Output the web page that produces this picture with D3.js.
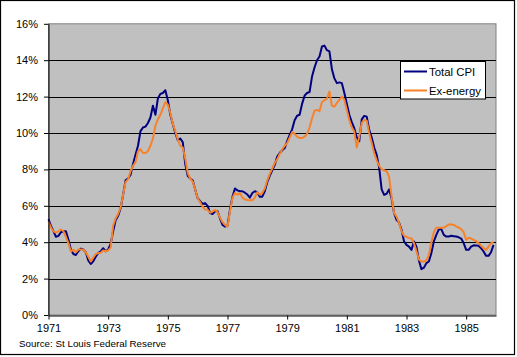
<!DOCTYPE html>
<html>
<head>
<meta charset="utf-8">
<script src="https://cdn.jsdelivr.net/npm/d3@7"></script>
<style>
  html, body { margin: 0; padding: 0; background: #fff; }
  svg { display: block; }
  text { font-family: "Liberation Sans", Arial, sans-serif; fill: #000; }
</style>
</head>
<body>
<svg id="chart" width="517" height="357"></svg>
<script>
// ---- data (monthly, Jan 1971 – Dec 1985, year-over-year % change) ----
const startYear = 1971;
const seriesNames = ["Total CPI", "Ex-energy"];
const cpiTotal = [
  5.26, 4.9, 4.6, 4.3, 4.35, 4.55, 4.6, 4.6, 4.15, 3.6, 3.35, 3.3,
  3.5, 3.65, 3.6, 3.45, 3.0, 2.8, 2.95, 3.2, 3.4, 3.5, 3.67, 3.5,
  3.6, 3.9, 4.6, 5.2, 5.45, 5.85, 6.6, 7.4, 7.5, 7.7, 8.3, 8.8,
  9.3, 10.1, 10.3, 10.35, 10.55, 10.85, 11.5, 11.0, 11.9, 12.15, 12.2, 12.35,
  11.8, 11.0, 10.5, 10.0, 9.6, 9.7, 9.5, 8.3, 7.65, 7.5, 7.4, 6.9,
  6.42, 6.25, 6.1, 6.15, 6.0, 5.6, 5.55, 5.7, 5.7, 5.3, 4.95, 4.86,
  4.9, 5.8, 6.5, 6.95, 6.85, 6.8, 6.8, 6.72, 6.62, 6.45, 6.7, 6.8,
  6.75, 6.5, 6.5, 6.8, 7.3, 7.65, 7.95, 8.25, 8.7, 8.9, 9.05, 9.17,
  9.55, 9.9, 10.2, 10.7, 10.95, 11.0, 11.6, 12.05, 12.2, 12.25, 13.1, 13.6,
  14.0, 14.2, 14.75, 14.8, 14.55, 14.48, 13.5, 13.0, 12.74, 12.78, 12.74, 12.2,
  11.6, 11.0, 10.6, 10.26, 9.75, 9.55, 10.75, 10.94, 10.9, 10.17, 9.75, 9.2,
  8.8, 8.1, 6.9, 6.6, 6.66, 6.9, 6.4, 5.6, 5.23, 5.08, 4.68, 4.05,
  3.85, 3.76, 3.58, 4.04, 3.76, 3.0, 2.52, 2.6, 2.85, 2.94, 3.4, 4.04,
  4.4, 4.7, 4.72, 4.4, 4.31, 4.31, 4.35, 4.33, 4.31, 4.27, 4.2, 3.95,
  3.58, 3.58, 3.76, 3.83, 3.82, 3.8, 3.67, 3.49, 3.25, 3.25, 3.45, 3.85
];
const cpiExEnergy = [
  5.13, 4.8, 4.6, 4.53, 4.6, 4.7, 4.6, 4.3, 3.95, 3.5, 3.58, 3.45,
  3.6, 3.6, 3.6, 3.45, 3.2, 2.94, 3.15, 3.35, 3.4, 3.42, 3.55, 3.5,
  3.55, 3.7, 4.9, 5.3, 5.55, 5.9, 6.6, 7.3, 7.45, 7.9, 8.2, 8.4,
  9.0, 9.1, 8.9, 8.9, 9.0, 9.3, 9.7, 10.4, 10.75, 11.0, 11.35, 11.7,
  11.55, 11.1, 10.5, 10.1, 9.65, 9.3, 9.2, 8.6, 7.8, 7.5, 7.33, 6.9,
  6.42, 6.2, 5.95, 5.8, 5.78, 5.62, 5.68, 5.78, 5.65, 5.35, 5.1, 4.95,
  4.86, 5.7, 6.45, 6.7, 6.62, 6.7, 6.45, 6.35, 6.32, 6.3, 6.3, 6.45,
  6.75, 6.62, 6.7, 6.95, 7.4, 7.75, 8.05, 8.35, 8.55, 8.85, 9.1, 9.3,
  9.44, 9.75, 10.05, 9.95, 9.8, 9.72, 9.72, 9.8, 9.95, 10.3, 10.8, 11.22,
  11.27, 11.2, 11.7, 11.8, 11.88, 12.28, 11.5, 11.45, 11.65, 11.82, 12.0, 11.82,
  11.27, 10.7, 10.3, 10.08, 9.2, 9.8, 10.55, 10.72, 10.68, 9.99, 9.45, 8.9,
  8.5, 8.2, 8.0, 7.95, 7.9, 7.6, 6.5, 5.6, 5.4, 5.05, 4.6, 4.35,
  4.3, 4.22, 4.22, 3.95, 3.5, 3.05, 2.94, 2.94, 3.0, 3.3, 4.0, 4.55,
  4.8, 4.8, 4.8, 4.8, 4.88, 4.97, 4.98, 4.95, 4.87, 4.8, 4.72, 4.55,
  4.13, 4.25, 4.2, 4.13, 4.06, 3.95, 3.8, 3.67, 3.58, 3.75, 3.95, 4.0
];
const xTickYears = [1971, 1973, 1975, 1977, 1979, 1981, 1983, 1985];
const yTickValues = [0, 2, 4, 6, 8, 10, 12, 14, 16];
const sourceNote = "Source: St Louis Federal Reserve";

// ---- layout ----
const W = 517, H = 357;
const plot = { left: 48.5, right: 496, top: 23.8, bottom: 315 };
const colors = ["#000080", "#F7822A"];

const svg = d3.select("#chart");

// outer frame
svg.append("rect")
  .attr("x", 0.5).attr("y", 0.5).attr("width", 514).attr("height", 354)
  .attr("fill", "#fff").attr("stroke", "#000").attr("stroke-width", 1.2);

const x = d3.scaleLinear().domain([startYear, startYear + 15]).range([plot.left, plot.right]);
const y = d3.scaleLinear().domain([0, 16]).range([plot.bottom, plot.top]);

// plot background
svg.append("rect")
  .attr("x", plot.left).attr("y", y(16))
  .attr("width", plot.right - plot.left).attr("height", plot.bottom - y(16))
  .attr("fill", "#C0C0C0").attr("stroke", "#808080").attr("stroke-width", 1);

// gridlines
svg.append("g").selectAll("line")
  .data(yTickValues.filter(v => v > 0 && v < 16))
  .join("line")
  .attr("x1", plot.left).attr("x2", plot.right)
  .attr("y1", d => Math.round(y(d)) + 0.5).attr("y2", d => Math.round(y(d)) + 0.5)
  .attr("stroke", "#000").attr("stroke-width", 1);

// series
const toPoints = arr => arr.map((v, i) => ({ t: startYear + i / 12, v }));
const line = d3.line().x(d => x(d.t)).y(d => y(d.v));
[cpiTotal, cpiExEnergy].forEach((arr, i) => {
  svg.append("path")
    .datum(toPoints(arr))
    .attr("d", line)
    .attr("fill", "none")
    .attr("stroke", colors[i])
    .attr("stroke-width", 2)
    .attr("stroke-linejoin", "round");
});

// y axis
const yAxis = d3.axisLeft(y).tickValues(yTickValues).tickFormat(d => d + "%")
  .tickSizeInner(4.5).tickSizeOuter(0).tickPadding(6);
const gy = svg.append("g").attr("transform", `translate(${Math.round(plot.left) - 0.5},0)`).call(yAxis);
gy.selectAll("text").style("font-size", "11px").style("font-family", '"Liberation Sans", Arial, sans-serif');
gy.select(".domain").attr("stroke", "#000");
gy.selectAll(".tick line").attr("stroke", "#000");

// x axis
const xAxis = d3.axisBottom(x).tickValues(xTickYears).tickFormat(d3.format("d"))
  .tickSizeInner(4).tickSizeOuter(0).tickPadding(4.5);
const gx = svg.append("g").attr("transform", `translate(0,${Math.round(plot.bottom) + 0.5})`).call(xAxis);
gx.selectAll("text").style("font-size", "11px").style("font-family", '"Liberation Sans", Arial, sans-serif');
gx.select(".domain").attr("stroke", "#000");
gx.selectAll(".tick line").attr("stroke", "#000");

// source note
svg.append("text")
  .attr("x", 19).attr("y", 346.5)
  .style("font-size", "9.8px")
  .text(sourceNote);

// legend
const lg = svg.append("g");
lg.append("rect")
  .attr("x", 400.5).attr("y", 61.5).attr("width", 85).attr("height", 37.5)
  .attr("fill", "#fff").attr("stroke", "#000").attr("stroke-width", 1);
const legendRowY = [71.5, 90.5];
seriesNames.forEach((name, i) => {
  lg.append("line")
    .attr("x1", 404).attr("x2", 427)
    .attr("y1", legendRowY[i]).attr("y2", legendRowY[i])
    .attr("stroke", colors[i]).attr("stroke-width", 2);
  lg.append("text")
    .attr("x", 429).attr("y", legendRowY[i] + 4)
    .style("font-size", "11.4px")
    .text(name);
});
</script>
</body>
</html>
